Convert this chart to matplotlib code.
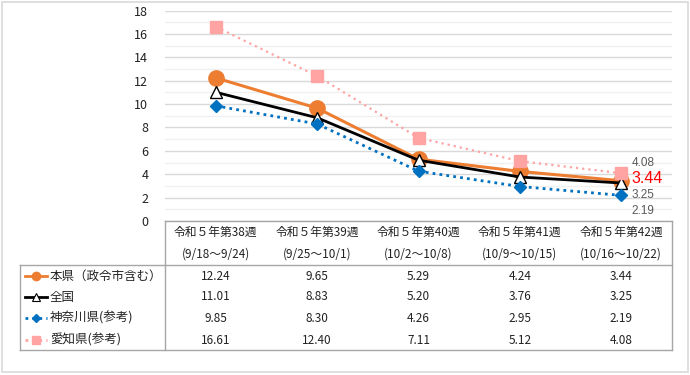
import matplotlib
matplotlib.use('Agg')
import matplotlib.pyplot as plt
from matplotlib.patches import Rectangle
from matplotlib.lines import Line2D

plt.rcParams['font.family'] = ['Noto Sans CJK JP', 'DejaVu Sans']

# ---- data ----
weeks = ['令和５年第38週', '令和５年第39週', '令和５年第40週', '令和５年第41週', '令和５年第42週']
dates = ['(9/18～9/24)', '(9/25～10/1)', '(10/2～10/8)', '(10/9～10/15)', '(10/16～10/22)']
names = ['本県（政令市含む）', '全国', '神奈川県(参考)', '愛知県(参考)']
honken = [12.24, 9.65, 5.29, 4.24, 3.44]
zenkoku = [11.01, 8.83, 5.20, 3.76, 3.25]
kanagawa = [9.85, 8.30, 4.26, 2.95, 2.19]
aichi = [16.61, 12.40, 7.11, 5.12, 4.08]
yticks = [0, 2, 4, 6, 8, 10, 12, 14, 16, 18]

series = [honken, zenkoku, kanagawa, aichi]
styles = [
    dict(color='#ED7D31', ls='-', lw=2.2, marker='o', ms=11, mfc='#ED7D31', mec='#ED7D31'),
    dict(color='#000000', ls='-', lw=2.0, marker='^', ms=9, mfc='white', mec='#000000', mew=1.0),
    dict(color='#0070C0', ls=(0, (1, 1.5)), lw=2.0, marker='D', ms=6.5, mfc='#0070C0', mec='#0070C0'),
    dict(color='#FFA3A3', ls=(0, (1, 1.8)), lw=1.6, marker='s', ms=8, mfc='#FFA3A3', mec='#FFA3A3'),
]
leg_line = [
    dict(color='#ED7D31', ls='-', lw=2.0),
    dict(color='#000000', ls='-', lw=2.0),
    dict(color='#0070C0', ls=(0, (1, 1.5)), lw=2.0),
    dict(color='#FFA3A3', ls=(0, (1, 1.5)), lw=2.0),
]
leg_mark = [
    dict(marker='o', ms=6, mfc='#ED7D31', mec='#ED7D31'),
    dict(marker='^', ms=6, mfc='white', mec='#000000', mew=0.8),
    dict(marker='D', ms=4.5, mfc='#0070C0', mec='#0070C0'),
    dict(marker='s', ms=6, mfc='#FFA3A3', mec='#FFA3A3'),
]

W, H = 690, 375
fig = plt.figure(figsize=(W / 100, H / 100), dpi=100)
fig.patch.set_facecolor('white')

# outer frame
fig.add_artist(Rectangle((1.5 / W, 3.5 / H), 686 / W, 370 / H, transform=fig.transFigure,
                         fill=False, ec='#D9D9D9', lw=1.2))

x0, x1 = 165, 672
ytop, y0 = 10.5, 221
ax = fig.add_axes([x0 / W, (H - y0) / H, (x1 - x0) / W, (y0 - ytop) / H])
xs = list(range(len(weeks)))
ax.set_xlim(-0.5, len(weeks) - 0.5)
ax.set_ylim(0, 18)
ax.set_yticks(yticks)
ax.set_yticks([v + 1 for v in yticks[:-1]], minor=True)
ax.set_xticks([])
ax.tick_params(axis='y', which='both', length=0, pad=12, labelsize=9, labelcolor='#222222')
for s in ax.spines.values():
    s.set_visible(False)
ax.grid(axis='y', which='major', color='#D9D9D9', lw=1.0)
ax.grid(axis='y', which='minor', color='#F0F0F0', lw=1.0)
ax.set_axisbelow(True)

for vals, st in zip(series, styles):
    ax.plot(xs, vals, clip_on=False, zorder=3, **st)

# data labels at last point
last = len(weeks) - 1
lab_cfg = [
    (honken, (10, 2), '#FF0000', 11.5),
    (zenkoku, (10, -12), '#595959', 8.5),
    (kanagawa, (10, -15.5), '#595959', 8.5),
    (aichi, (10, 10.5), '#595959', 8.5),
]
for vals, off, col, fs in lab_cfg:
    ax.annotate(f'{vals[last]:.2f}', (xs[last], vals[last]), xytext=off, textcoords='offset pixels',
                color=col, fontsize=fs, ha='left', va='center', zorder=5, annotation_clip=False,
                family='Liberation Sans')

# ---- data table ----
tl, tb = 20, 350
colw = (x1 - x0) / len(weeks)
xL = -0.5 - (x0 - tl) / colw
axt = fig.add_axes([tl / W, (H - tb) / H, (x1 - tl) / W, (tb - y0) / H])
axt.set_xlim(xL, len(weeks) - 0.5)
axt.set_ylim(tb - y0, 0)
axt.axis('off')
lc = '#A6A6A6'
xr = len(weeks) - 0.5
hx = -0.5
axt.plot([hx, xr], [0, 0], color=lc, lw=1, clip_on=False)
axt.plot([xL, xr], [44, 44], color=lc, lw=1, clip_on=False)
axt.plot([xL, xr], [129, 129], color=lc, lw=1, clip_on=False)
axt.plot([hx, hx], [0, 129], color=lc, lw=1, clip_on=False)
axt.plot([xr, xr], [0, 129], color=lc, lw=1, clip_on=False)
axt.plot([xL, xL], [44, 129], color=lc, lw=1, clip_on=False)

for i, (w, d) in enumerate(zip(weeks, dates)):
    axt.text(i, 11, w, ha='center', va='center', fontsize=8.5, color='#222222')
    axt.text(i, 33, d, ha='center', va='center', fontsize=8.5, color='#222222')

row_y = [55, 76, 97, 119]
px = 1 / colw
for r, (nm, vals) in enumerate(zip(names, series)):
    y = row_y[r]
    axt.add_line(Line2D([xL + 5 * px, xL + 27 * px], [y, y], **leg_line[r]))
    axt.add_line(Line2D([xL + 16 * px], [y], ls='none', **leg_mark[r]))
    axt.text(xL + 30 * px, y, nm, ha='left', va='center', fontsize=9, color='#222222')
    for i, v in enumerate(vals):
        axt.text(i, y, f'{v:.2f}', ha='center', va='center', fontsize=8.5, color='#222222')

fig.savefig('out.png', dpi=100)
